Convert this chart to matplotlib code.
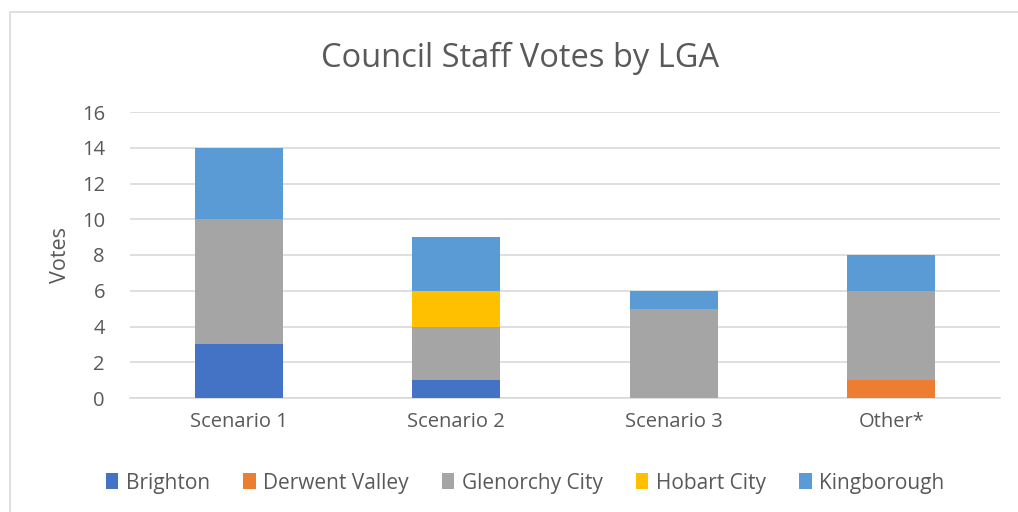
import matplotlib.pyplot as plt
import matplotlib.patches as patches
import numpy as np

plt.rcParams['font.family'] = ['Open Sans', 'DejaVu Sans']

categories = ['Scenario 1', 'Scenario 2', 'Scenario 3', 'Other*']
series = ['Brighton', 'Derwent Valley', 'Glenorchy City', 'Hobart City', 'Kingborough']
brighton = [3, 1, 0, 0]
derwent = [0, 0, 0, 1]
glenorchy = [7, 3, 5, 5]
hobart = [0, 2, 0, 0]
kingborough = [4, 3, 1, 2]
colors = ['#4472C4', '#ED7D31', '#A5A5A5', '#FFC000', '#5B9BD5']

txt = '#595959'
fig = plt.figure(figsize=(10.18, 5.12), dpi=100)
ax = fig.add_axes([130/1018, 1 - 398/512, 870/1018, 286/512])

# chart border (light grey)
fig.patches.append(patches.Rectangle((10/1018, -0.1), 1.2, (512 - 12)/512 + 0.1,
                                     transform=fig.transFigure, fill=False,
                                     edgecolor='#D9D9D9', linewidth=1.2))

x = np.arange(len(categories))
bottom = np.zeros(len(categories))
for name, vals, c in zip(series, [brighton, derwent, glenorchy, hobart, kingborough], colors):
    ax.bar(x, vals, bottom=bottom, width=0.405, color=c, label=name, zorder=3)
    bottom += np.array(vals)

ax.set_xlim(-0.5, 3.5)
ax.set_ylim(0, 16)
ax.set_yticks(range(0, 17, 2))
ax.set_xticks(x)
ax.set_xticklabels(categories)
ax.yaxis.grid(True, color='#D9D9D9', linewidth=1.2, zorder=0)
for s in ['top', 'right', 'left']:
    ax.spines[s].set_visible(False)
ax.spines['bottom'].set_color('#D9D9D9')
ax.spines['bottom'].set_linewidth(1.2)
ax.tick_params(axis='both', length=0, labelsize=14.5, colors=txt)
ax.tick_params(axis='x', pad=10)
ax.tick_params(axis='y', pad=18)
ax.set_ylabel('Votes', fontsize=15.5, color=txt, labelpad=8)

fig.text(520/1018, 1 - 58/512, 'Council Staff Votes by LGA', ha='center', va='center',
         fontsize=23.5, color=txt)

leg = fig.legend(loc='center', bbox_to_anchor=(525/1018, 1 - 483/512), ncol=5,
                 frameon=False, fontsize=15, handlelength=0.6, handleheight=0.8,
                 columnspacing=1.6, handletextpad=0.35)
for t in leg.get_texts():
    t.set_color(txt)

fig.savefig('out.png', dpi=100)
